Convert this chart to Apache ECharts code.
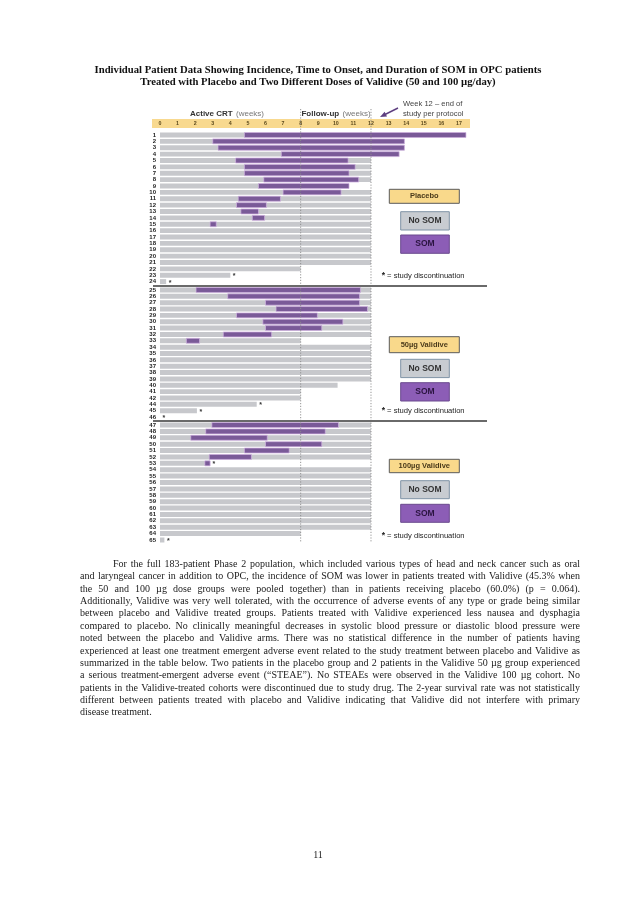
<!DOCTYPE html>
<html><head><meta charset="utf-8">
<script src="https://cdn.jsdelivr.net/npm/echarts@6/dist/echarts.min.js"></script>
<style>
html,body{margin:0;padding:0;background:#fff;}
#wrap{position:relative;width:636px;height:900px;overflow:hidden;}
#chart{position:absolute;left:0;top:0;width:636px;height:900px;}
#para{position:absolute;left:80px;top:557.8px;width:500px;font-family:'Liberation Serif','Times New Roman',serif;font-size:10px;line-height:12.39px;color:#1a1a1a;}
#para div{text-align:justify;text-align-last:justify;white-space:nowrap;}
#para div.first{text-indent:33px;}
#para div.last{text-align-last:left;}
#pnum{position:absolute;left:0;width:636px;top:849px;text-align:center;font-family:'Liberation Serif',serif;font-size:10px;color:#222;}
</style></head>
<body><div id="wrap"><div id="chart"></div>
<div id="para">
<div class="first">For the full 183-patient Phase 2 population, which included various types of head and neck cancer such as oral</div>
<div>and laryngeal cancer in addition to OPC, the incidence of SOM was lower in patients treated with Validive (45.3% when</div>
<div>the 50 and 100 µg dose groups were pooled together) than in patients receiving placebo (60.0%) (p = 0.064).</div>
<div>Additionally, Validive was very well tolerated, with the occurrence of adverse events of any type or grade being similar</div>
<div>between placebo and Validive treated groups. Patients treated with Validive experienced less nausea and dysphagia</div>
<div>compared to placebo. No clinically meaningful decreases in systolic blood pressure or diastolic blood pressure were</div>
<div>noted between the placebo and Validive arms. There was no statistical difference in the number of patients having</div>
<div>experienced at least one treatment emergent adverse event related to the study treatment between placebo and Validive as</div>
<div>summarized in the table below. Two patients in the placebo group and 2 patients in the Validive 50 µg group experienced</div>
<div>a serious treatment-emergent adverse event (“STEAE”). No STEAEs were observed in the Validive 100 µg cohort. No</div>
<div>patients in the Validive-treated cohorts were discontinued due to study drug. The 2-year survival rate was not statistically</div>
<div>different between patients treated with placebo and Validive indicating that Validive did not interfere with primary</div>
<div class="last">disease treatment.</div>
</div>
<div id="pnum">11</div>
</div>
<script>
// ---------- data ----------
const weekTicks = [0,1,2,3,4,5,6,7,8,9,10,11,12,13,14,15,16,17];

const placeboIds = ['1','2','3','4','5','6','7','8','9','10','11','12','13','14','15','16','17','18','19','20','21','22','23','24'];
const placeboTotal = [17.4,13.9,13.9,13.6,12,12,12,12,10.75,12,12,12,12,12,12,12,12,12,12,12,12,8,4.0,0.35];
const placeboSomStart = [4.8,3.0,3.3,6.9,4.3,4.8,4.8,5.9,5.6,7.0,4.45,4.35,4.6,5.25,2.85,null,null,null,null,null,null,null,null,null];
const placeboSomEnd = [17.4,13.9,13.9,13.6,10.7,11.1,10.75,11.3,10.75,10.3,6.85,6.05,5.6,5.95,3.2,null,null,null,null,null,null,null,null,null];
const placeboDiscontinued = ['23','24'];

const v50Ids = ['25','26','27','28','29','30','31','32','33','34','35','36','37','38','39','40','41','42','44','45','46'];
const v50Total = [12,12,12,12,12,12,12,12,8,12,12,12,12,12,12,10.1,8,8,5.5,2.1,0];
const v50SomStart = [2.05,3.85,6.0,6.6,4.35,5.85,6.0,3.6,1.5,null,null,null,null,null,null,null,null,null,null,null,null];
const v50SomEnd = [11.4,11.35,11.35,11.8,8.95,10.4,9.2,6.35,2.25,null,null,null,null,null,null,null,null,null,null,null,null];
const v50Discontinued = ['44','45','46'];

const v100Ids = ['47','48','49','50','51','52','53','54','55','56','57','58','59','60','61','62','63','64','65'];
const v100Total = [12,12,12,12,12,12,2.85,12,12,12,12,12,12,12,12,12,12,8,0.25];
const v100SomStart = [2.95,2.6,1.75,6.0,4.8,2.8,2.55,null,null,null,null,null,null,null,null,null,null,null,null];
const v100SomEnd = [10.15,9.4,6.1,9.2,7.35,5.2,2.85,null,null,null,null,null,null,null,null,null,null,null,null];
const v100Discontinued = ['53','65'];

const groupLabels = ['Placebo','50µg Validive','100µg Validive'];

// ---------- styling ----------
const GREY = '#c7c8cc';
const PURPLE = '#7a5a98';
const groups = [
  {ids:placeboIds,total:placeboTotal,s:placeboSomStart,e:placeboSomEnd,disc:placeboDiscontinued},
  {ids:v50Ids,total:v50Total,s:v50SomStart,e:v50SomEnd,disc:v50Discontinued},
  {ids:v100Ids,total:v100Total,s:v100SomStart,e:v100SomEnd,disc:v100Discontinued}
];
const gridBoxes = [
  {left:160,right:168.3,top:131.8,height:153},
  {left:160,right:168.3,top:286.8,height:133.4},
  {left:160,right:168.3,top:421.8,height:121.4}
];

function rectRender(color, outline){
  return function(params, api){
    const a = api.coord([api.value(0), api.value(2)]);
    const b = api.coord([api.value(1), api.value(2)]);
    const h = api.size([0,1])[1]*0.78;
    return {type:'rect', shape:{x:a[0], y:a[1]-h/2, width:b[0]-a[0], height:h},
      style:{fill:color, stroke: outline ? '#d2b4e2' : null, lineWidth: outline ? 0.7 : 0}};
  };
}
function starRender(params, api){
  const p = api.coord([api.value(0), api.value(1)]);
  return {type:'text', x:p[0]+2.5, y:p[1]+1.2,
    style:{text:'*', font:'bold 7px "Liberation Sans"', fill:'#333', align:'left', verticalAlign:'middle'}};
}

const xAxes = [], yAxes = [], series = [];
groups.forEach((g, gi) => {
  xAxes.push({
    type:'value', gridIndex:gi, min:0, max:17.5, interval:1,
    position:'top', show: gi === 0,
    axisLine:{show:false}, axisTick:{show:false}, splitLine:{show:false},
    axisLabel:{show: gi === 0, fontSize:5.3, fontWeight:'bold', color:'#5c4a1e', margin:5.3,
      fontFamily:'Liberation Sans',
      formatter: v => weekTicks.indexOf(v) >= 0 ? String(v) : ''}
  });
  yAxes.push({
    type:'category', gridIndex:gi, data:g.ids, inverse:true,
    axisLine:{show:false}, axisTick:{show:false}, splitLine:{show:false},
    axisLabel:{interval:0, fontSize:6, fontWeight:'bold', color:'#222', margin:4, fontFamily:'Liberation Sans'}
  });
  series.push({type:'custom', xAxisIndex:gi, yAxisIndex:gi, z:2, renderItem:rectRender(GREY,false),
    encode:{x:[0,1], y:2},
    data: g.ids.map((id,i)=>[0,g.total[i],i]).filter(d=>d[1]>0)});
  series.push({type:'custom', xAxisIndex:gi, yAxisIndex:gi, z:3, renderItem:rectRender(PURPLE,true),
    encode:{x:[0,1], y:2},
    data: g.ids.map((id,i)=> g.s[i]==null ? null : [g.s[i], g.e[i], i]).filter(Boolean)});
  series.push({type:'custom', xAxisIndex:gi, yAxisIndex:gi, z:4, renderItem:starRender,
    encode:{x:0, y:1},
    data: g.disc.map(id => { const i = g.ids.indexOf(id); return [g.total[i], i]; })});
});

const chart = echarts.init(document.getElementById('chart'), null, {renderer:'canvas'});
chart.setOption({
  animation:false,
  backgroundColor:'#fff',
  grid: gridBoxes,
  xAxis: xAxes,
  yAxis: yAxes,
  series: series
});

// ---------- decorations ----------
const x8 = chart.convertToPixel({xAxisIndex:0}, 8);
const x12 = chart.convertToPixel({xAxisIndex:0}, 12);
const gfx = [];
gfx.push({type:'rect', z:-1, shape:{x:152, y:119, width:318, height:9}, style:{fill:'#f8d98f'}});
gfx.push({type:'text', x:318, y:70.5, style:{text:'Individual Patient Data Showing Incidence, Time to Onset, and Duration of SOM in OPC patients', font:'bold 10.7px "Liberation Serif"', fill:'#111', align:'center', verticalAlign:'middle'}});
gfx.push({type:'text', x:318, y:81.8, style:{text:'Treated with Placebo and Two Different Doses of Validive (50 and 100 µg/day)', font:'bold 10.7px "Liberation Serif"', fill:'#111', align:'center', verticalAlign:'middle'}});
gfx.push({type:'text', x:227, y:114, style:{text:'{b|Active CRT} {n|(weeks)}', align:'center', verticalAlign:'middle',
  rich:{b:{font:'bold 8px "Liberation Sans"', fill:'#333'}, n:{font:'8px "Liberation Sans"', fill:'#777'}}}});
gfx.push({type:'text', x:336, y:114, style:{text:'{b|Follow-up} {n|(weeks)}', align:'center', verticalAlign:'middle',
  rich:{b:{font:'bold 8px "Liberation Sans"', fill:'#333'}, n:{font:'8px "Liberation Sans"', fill:'#777'}}}});
gfx.push({type:'text', x:403, y:104.3, style:{text:'Week 12 – end of', font:'7.6px "Liberation Sans"', fill:'#444', align:'left', verticalAlign:'middle'}});
gfx.push({type:'text', x:403, y:114.3, style:{text:'study per protocol', font:'7.6px "Liberation Sans"', fill:'#444', align:'left', verticalAlign:'middle'}});
gfx.push({type:'line', shape:{x1:398, y1:108, x2:385, y2:114.5}, style:{stroke:'#5e3f80', lineWidth:1.5}});
gfx.push({type:'polygon', shape:{points:[[380,117],[384.6,111.8],[387,116.6]]}, style:{fill:'#5e3f80'}});
[x8, x12].forEach(x => {
  gfx.push({type:'line', z:10, shape:{x1:x, y1:109, x2:x, y2:543}, style:{stroke:'#8a8a8a', lineWidth:0.9, lineDash:[1.2,1.6]}});
});
[286, 421].forEach(y => {
  gfx.push({type:'line', z:10, shape:{x1:153, y1:y, x2:487, y2:y}, style:{stroke:'#6a6a6a', lineWidth:2}});
});
function legend(label, yl, hl, yn, ys, ht, yt){
  gfx.push({type:'rect', shape:{x:389.3, y:yl, width:70, height:hl}, style:{fill:'#f9d98b', stroke:'#5a5a5a', lineWidth:1}});
  gfx.push({type:'text', x:424.3, y:yl+hl/2, style:{text:label, font:'bold 7.5px "Liberation Sans"', fill:'#4a3a1a', align:'center', verticalAlign:'middle'}});
  gfx.push({type:'rect', shape:{x:400.7, y:yn, width:48.6, height:ht}, style:{fill:'#c8ccd1', stroke:'#7f93a6', lineWidth:1}});
  gfx.push({type:'text', x:425, y:yn+ht/2, style:{text:'No SOM', font:'bold 8.5px "Liberation Sans"', fill:'#333', align:'center', verticalAlign:'middle'}});
  gfx.push({type:'rect', shape:{x:400.7, y:ys, width:48.6, height:ht}, style:{fill:'#8c5db6', stroke:'#6b4a8e', lineWidth:1}});
  gfx.push({type:'text', x:425, y:ys+ht/2, style:{text:'SOM', font:'bold 8.5px "Liberation Sans"', fill:'#2b1440', align:'center', verticalAlign:'middle'}});
  gfx.push({type:'text', x:381.7, y:yt, style:{text:'{s|*} = study discontinuation', align:'left', verticalAlign:'middle',
    rich:{s:{font:'bold 8.5px "Liberation Sans"', fill:'#222'}}, font:'7.6px "Liberation Sans"', fill:'#222'}});
}
legend(groupLabels[0], 189.3, 14, 211.7, 235, 18.3, 276);
legend(groupLabels[1], 336.7, 16, 359.3, 382.7, 18.3, 410.7);
legend(groupLabels[2], 459.3, 13.4, 480.7, 504.3, 18, 536);

chart.setOption({graphic: gfx});
</script>
</body></html>
